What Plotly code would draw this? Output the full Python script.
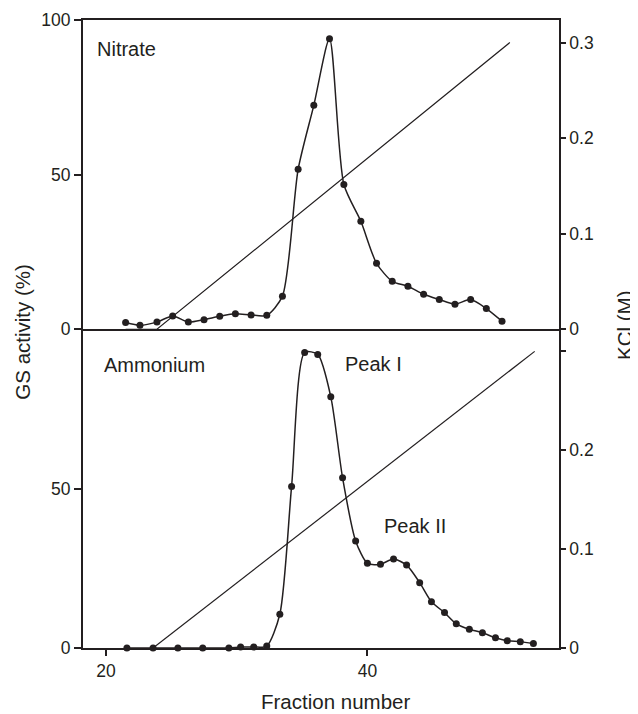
import plotly.graph_objects as go

# ---- data ----
# Nitrate panel (top)
nitrate_fraction = [21.5, 22.6, 23.9, 25.1, 26.3, 27.5, 28.7, 29.9, 31.1, 32.3, 33.5,
                    34.7, 35.9, 37.1, 38.2, 39.5, 40.7, 41.9, 43.1, 44.3, 45.5, 46.7,
                    47.9, 49.1, 50.3]
nitrate_gs = [2.2, 1.3, 2.3, 4.3, 2.3, 3.1, 4.2, 5.0, 4.6, 4.5, 10.7,
              51.7, 72.4, 93.9, 46.8, 34.9, 21.3, 15.5, 13.9, 11.3, 9.6, 8.1,
              9.6, 6.7, 2.6]
nitrate_kcl_fraction = [21.5, 23.9, 50.9]
nitrate_kcl = [0.0, 0.0, 0.30]

# Ammonium panel (bottom)
ammonium_fraction = [21.6, 23.6, 25.5, 27.4, 29.4, 30.3, 31.3, 32.3, 33.3, 34.2,
                     35.2, 36.2, 37.2, 38.1, 39.1, 40.0, 41.0, 42.0, 43.0, 44.0,
                     44.9, 45.9, 46.8, 47.8, 48.8, 49.8, 50.7, 51.7, 52.7]
ammonium_gs = [0.0, 0.0, 0.0, 0.0, 0.0, 0.3, 0.3, 0.6, 10.6, 50.7,
               92.7, 92.1, 78.8, 53.4, 33.6, 26.6, 26.3, 27.9, 26.0, 20.5,
               14.5, 11.1, 7.6, 5.9, 4.8, 3.2, 2.3, 2.0, 1.4]
ammonium_kcl_fraction = [23.6, 52.8]
ammonium_kcl = [0.0, 0.30]

x_ticks = [20, 40]
gs_ticks_top = [0, 50, 100]
gs_ticks_bottom = [0, 50]
kcl_ticks_top = [0, 0.1, 0.2, 0.3]
kcl_ticks_bottom = [0, 0.1, 0.2, 0.3]
kcl_ticktext_bottom = ["0", "0.1", "0.2", ""]

INK = "#231f20"
FONT = "Liberation Sans, Arial, Helvetica, sans-serif"

fig = go.Figure()

gs_line = dict(color=INK, width=1.5, shape="spline", smoothing=0.7)
gs_marker = dict(color=INK, size=7)

fig.add_trace(go.Scatter(x=nitrate_fraction, y=nitrate_gs, xaxis="x2", yaxis="y",
                         mode="lines+markers", line=gs_line, marker=gs_marker,
                         cliponaxis=False, showlegend=False))
fig.add_trace(go.Scatter(x=nitrate_kcl_fraction, y=nitrate_kcl, xaxis="x2", yaxis="y2",
                         mode="lines", line=dict(color=INK, width=1.2),
                         cliponaxis=False, showlegend=False))
fig.add_trace(go.Scatter(x=ammonium_fraction, y=ammonium_gs, xaxis="x", yaxis="y3",
                         mode="lines+markers", line=gs_line, marker=gs_marker,
                         cliponaxis=False, showlegend=False))
fig.add_trace(go.Scatter(x=ammonium_kcl_fraction, y=ammonium_kcl, xaxis="x", yaxis="y4",
                         mode="lines", line=dict(color=INK, width=1.2),
                         cliponaxis=False, showlegend=False))

split = 0.5076
xr = [18.24, 54.66]
tickfont = dict(family=FONT, size=17.5, color=INK)

common = dict(showgrid=False, zeroline=False, automargin=False, tickfont=tickfont,
              linecolor=INK, tickcolor=INK, showline=True)

# the page body has an 8px margin, so the figure is sized to fit the window
fig.update_layout(
    width=630, height=706,
    margin=dict(l=75, r=79, t=12, b=66, autoexpand=False),
    paper_bgcolor="white", plot_bgcolor="white",
    font=dict(family=FONT, color=INK),
    xaxis=dict(domain=[0, 1], anchor="y3", range=xr, tickvals=x_ticks,
               ticks="outside", ticklen=6, tickwidth=1.5, linewidth=2, **common),
    xaxis2=dict(domain=[0, 1], anchor="y", range=xr, matches="x",
                showticklabels=False, ticks="", linewidth=1.8, mirror=True, **common),
    yaxis=dict(domain=[split, 1], anchor="x2", range=[0, 100], tickvals=gs_ticks_top,
               ticks="outside", ticklen=7, tickwidth=1.5, linewidth=2, **common),
    yaxis2=dict(overlaying="y", side="right", anchor="x2", range=[0, 0.3236],
                tickvals=kcl_ticks_top, ticks="outside", ticklen=5, tickwidth=1.5,
                linewidth=1.7, **common),
    yaxis3=dict(domain=[0, split], anchor="x", range=[0, 100], tickvals=gs_ticks_bottom,
                ticks="outside", ticklen=7, tickwidth=1.5, linewidth=2, **common),
    yaxis4=dict(overlaying="y3", side="right", anchor="x", range=[0, 0.3224],
                tickvals=kcl_ticks_bottom, ticktext=kcl_ticktext_bottom,
                ticks="outside", ticklen=5, tickwidth=1.5, linewidth=1.7, **common),
)

ann_font = dict(family=FONT, size=20, color=INK)
title_font = dict(family=FONT, size=20.5, color=INK)
annotations = [
    dict(text="Nitrate", x=0.0244, y=0.954, xanchor="left", yanchor="middle", font=ann_font),
    dict(text="Ammonium", x=0.040, y=0.451, xanchor="left", yanchor="middle", font=ann_font),
    dict(text="Peak I", x=0.546, y=0.452, xanchor="left", yanchor="middle", font=ann_font),
    dict(text="Peak II", x=0.628, y=0.1936, xanchor="left", yanchor="middle", font=ann_font),
    dict(text="Fraction number", x=0.5297, y=-0.0855, xanchor="center", yanchor="middle",
         font=title_font),
    dict(text="GS activity (%)", x=-0.127, y=0.503, xanchor="center", yanchor="middle",
         textangle=-90, font=title_font),
    dict(text="KCl (M)", x=1.139, y=0.513, xanchor="center", yanchor="middle",
         textangle=-90, font=title_font),
]
for a in annotations:
    a.update(xref="paper", yref="paper", showarrow=False)
fig.update_layout(annotations=annotations)

fig.write_html("out.html")
